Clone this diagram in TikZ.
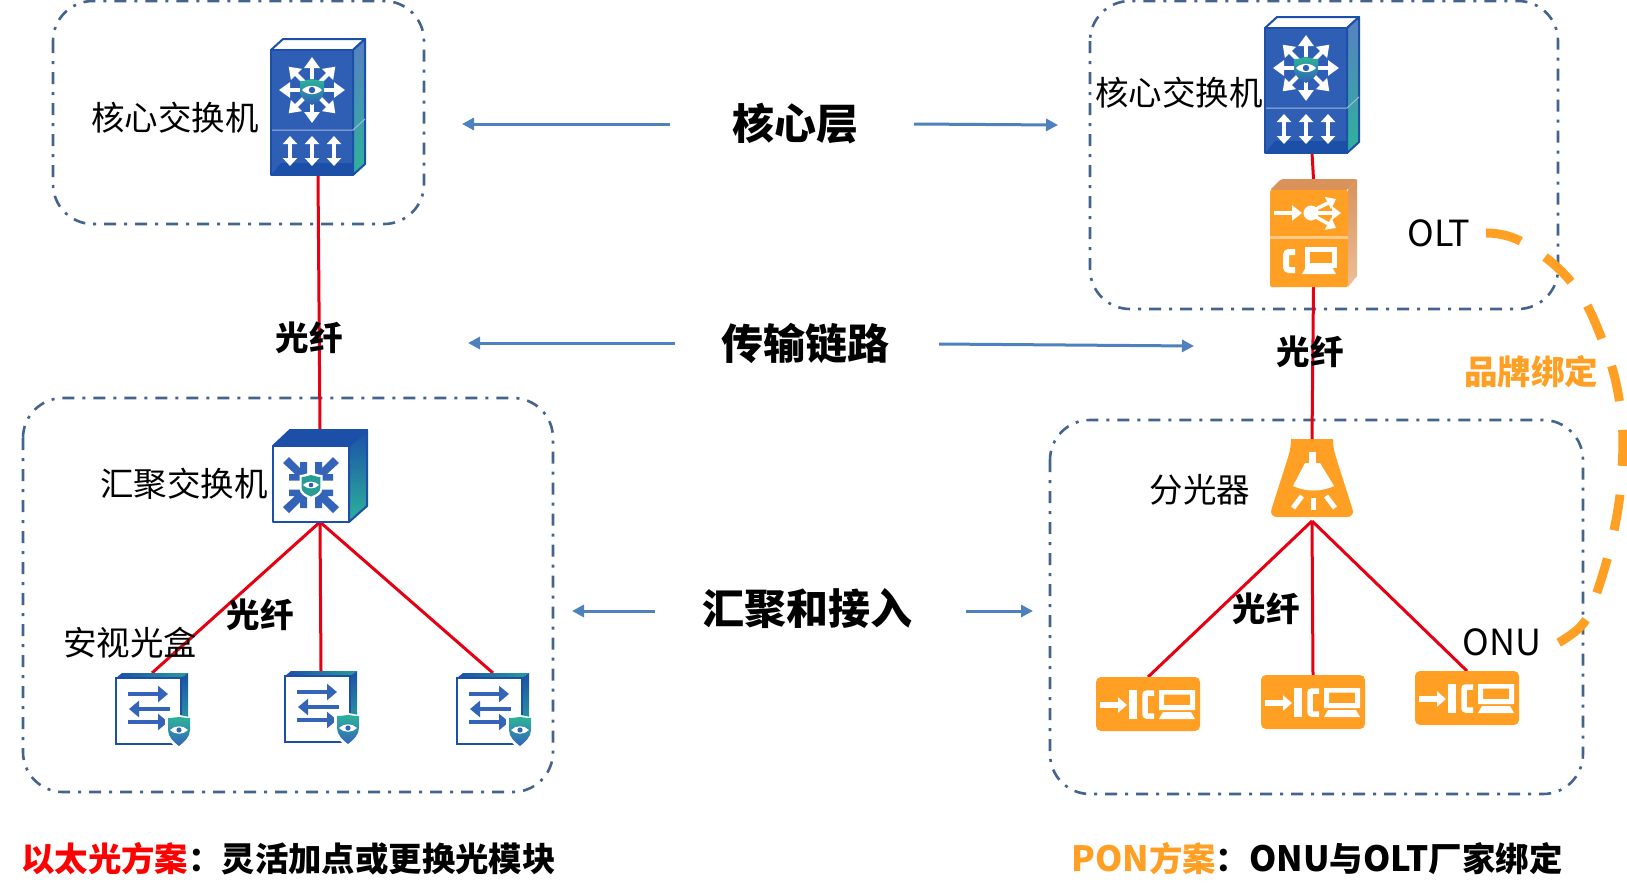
\documentclass[tikz,border=0pt]{standalone}
\usepackage{fontspec}
\usetikzlibrary{arrows.meta,calc,shadings}
\newfontfamily\cjk{Noto Sans CJK SC}
\newcommand{\latinpart}[1]{{\fontsize{36}{36}\selectfont #1}}
\newcommand{\footlatin}[1]{{\fontsize{34.8}{36}\selectfont #1}}
\definecolor{dashblue}{HTML}{44648E}
\definecolor{arrowblue}{HTML}{4F81BD}
\definecolor{devblue}{HTML}{2F5FB5}
\definecolor{edgeblue}{HTML}{1B4FA8}
\definecolor{midblue}{HTML}{3464B8}
\definecolor{teal1}{HTML}{2DB39A}
\definecolor{teal2}{HTML}{2A9C96}
\definecolor{orange1}{HTML}{FF9F24}
\definecolor{tanorange}{HTML}{D9925A}
\definecolor{tanlight}{HTML}{EBC09A}
\definecolor{fiberred}{HTML}{E60012}
\tikzset{
  x=1pt,y=-1pt,
  groupbox/.style={draw=dashblue,line width=2.6pt,rounded corners=40pt,dash pattern=on 12pt off 8pt on 3pt off 8pt},
  fiber/.style={draw=fiberred,line width=3pt},
  blueflow/.style={draw=arrowblue,line width=3pt,-{Triangle[length=12pt,width=12pt]}},
  brandcurve/.style={draw=orange1,line width=9pt,dash pattern=on 36pt off 29pt},
  anchorbox/.style={inner sep=0pt,outer sep=0pt,anchor=north west},
  plainlabel/.style={font=\cjk\fontsize{33.5}{36}\selectfont,text=black,inner sep=0pt},
  fiberlabel/.style={font=\cjk\bfseries\fontsize{33.5}{36}\selectfont,text=black,inner sep=0pt},
  layerlabel/.style={font=\cjk\bfseries\fontsize{42}{44}\selectfont,text=black,inner sep=0pt},
  footer/.style={font=\cjk\bfseries\fontsize{33.4}{36}\selectfont,inner sep=0pt,anchor=west},
  warrow/.style={draw=white,line width=4pt,-{Triangle[length=11pt,width=15pt]}},
  wdouble/.style={draw=white,line width=4pt,{Triangle[length=8pt,width=14pt]}-{Triangle[length=8pt,width=14pt]}},
  barrow/.style={draw=midblue,line width=4.5pt,-{Triangle[length=10pt,width=16pt]}},
  % ---- core switch
  coreswitch/.pic={
    \fill[white,draw=edgeblue,line width=2pt,line join=round] (0,11)--(12,0)--(94,0)--(82,11)--cycle;
    \path[top color=devblue!80!white,bottom color=teal1,draw=edgeblue,line width=2pt,line join=round] (82,11)--(94,0)--(94,125)--(82,136)--cycle;
    \fill[devblue,draw=edgeblue,line width=2pt,line join=round] (0,11)--(82,11)--(82,136)--(0,136)--cycle;
    \fill[edgeblue] (10,124)--(82,124)--(82,135)--(1,135)--cycle;
    \draw[devblue!45!white,line width=1pt] (1,91)--(82,91)--(94,80);
    \foreach \a in {0,45,...,315}{\draw[warrow] ($(41,51)+(\a:11)$)--($(41,51)+(\a:33)$);}
    \begin{scope}[shift={(41,51)}]
      \path[top color=teal1,bottom color=devblue] (-12,-9) .. controls (-4,-9) and (-4,-11) .. (0,-11) .. controls (4,-11) and (4,-9) .. (12,-9) -- (12,2) .. controls (12,8) and (5,12) .. (0,15) .. controls (-5,12) and (-12,8) .. (-12,2) -- cycle;
      \fill[white] (-10,0) .. controls (-5,-5.5) and (5,-5.5) .. (10,0) .. controls (5,5.5) and (-5,5.5) .. (-10,0) -- cycle;
      \fill[devblue] (0,0) circle[radius=3.2];
    \end{scope}
    \draw[wdouble] (19,97)--(19,127);
    \draw[wdouble] (41,97)--(41,127);
    \draw[wdouble] (63,97)--(63,127);
  },
  % ---- OLT
  oltbox/.pic={
    \fill[tanorange,rounded corners=2pt] (0,11)--(11,0)--(87,0)--(78,11)--cycle;
    \path[top color=tanorange,bottom color=tanlight] (78,11)--(87,0)--(87,97)--(78,108)--cycle;
    \fill[orange1,rounded corners=2pt] (0,11)--(78,11)--(78,108)--(0,108)--cycle;
    \draw[orange1!55!white,line width=3pt] (0,58)--(78,58);
    \draw[draw=white,line width=4pt,-{Triangle[length=10pt,width=15pt]}] (4,34)--(32,34);
    \fill[white] (41,34) circle[radius=7.5];
    \draw[draw=white,line width=3.5pt,-{Triangle[length=9pt,width=13pt]}] (44,31)--(66,20);
    \draw[draw=white,line width=3.5pt,-{Triangle[length=9pt,width=13pt]}] (44,34)--(71,34);
    \draw[draw=white,line width=3.5pt,-{Triangle[length=9pt,width=13pt]}] (44,37)--(66,49);
    \draw[white,line width=6pt,rounded corners=3pt] (25,73)--(16,73)--(16,91)--(25,91);
    \draw[white,line width=5pt,fill=orange1] (37.5,70.5) rectangle (64,86);
    \fill[white] (36,88)--(62,88)--(66,95)--(32,95)--cycle;
  },
  % ---- aggregation switch
  aggswitch/.pic={
    \fill[edgeblue,draw=edgeblue,line width=2pt,line join=round] (0,16)--(17,0)--(94,0)--(76,16)--cycle;
    \path[top color=edgeblue,bottom color=teal1,draw=edgeblue,line width=2pt,line join=round] (76,16)--(94,0)--(94,76)--(76,92)--cycle;
    \fill[white,draw=edgeblue,line width=2pt,line join=round] (0,16) rectangle (76,92);
    \foreach \sx/\sy in {1/1,-1/1,1/-1,-1/-1}{
      \fill[midblue,shift={(38,55)},xscale=\sx,yscale=\sy] (-4,-4.5)--(-22,-4.5)--(-22,-11)--(-16,-11)--(-28,-22)--(-22,-28)--(-11,-17)--(-11,-23)--(-4,-23)--cycle;
    }
    \begin{scope}[shift={(38,55)}]
      \fill[white] (-11.5,-10) .. controls (-6,-10) and (-3,-12.5) .. (0,-12.5) .. controls (3,-12.5) and (6,-10) .. (11.5,-10) -- (11.5,3) .. controls (11.5,9) and (6,12) .. (0,14) .. controls (-6,12) and (-11.5,9) .. (-11.5,3) -- cycle;
      \fill[teal2] (-9.3,-8) .. controls (-4,-8) and (-3,-10) .. (0,-10) .. controls (3,-10) and (4,-8) .. (9.3,-8) -- (9.3,3) .. controls (9.3,7) and (5,9.5) .. (0,11.5) .. controls (-5,9.5) and (-9.3,7) .. (-9.3,3) -- cycle;
      \fill[white] (-8,0) .. controls (-4,-4.5) and (4,-4.5) .. (8,0) .. controls (4,4.5) and (-4,4.5) .. (-8,0) -- cycle;
      \fill[devblue] (0,0) circle[radius=2.3];
    \end{scope}
  },
  % ---- access box
  accessbox/.pic={
    \path[left color=edgeblue,right color=teal2] (0,5)--(6,0)--(72,0)--(65,5)--cycle;
    \path[top color=edgeblue,bottom color=teal1] (65,5)--(72,0)--(72,62)--(65,66)--cycle;
    \fill[white,draw=edgeblue,line width=1.6pt] (0,5) rectangle (65,71);
    \draw[barrow] (12,21)--(52,21);
    \draw[barrow] (54,36)--(13,36);
    \draw[barrow] (12,49)--(52,49);
    \begin{scope}[shift={(63,48)}]
      \fill[white] (-14,-4) .. controls (-6,-4) and (-3,-6) .. (0,-6) .. controls (3,-6) and (6,-4) .. (14,-4) -- (14,10) .. controls (14,18) and (6,24) .. (0,28) .. controls (-6,24) and (-14,18) .. (-14,10) -- cycle;
      \path[top color=teal1,bottom color=midblue] (-11,-3) .. controls (-5,-3) and (-3,-4) .. (0,-4) .. controls (3,-4) and (5,-3) .. (11,-3) -- (11,9) .. controls (11,16) and (5,21) .. (0,25) .. controls (-5,21) and (-11,16) .. (-11,9) -- cycle;
      \fill[white] (-9,9) .. controls (-4,4) and (4,4) .. (9,9) .. controls (4,14) and (-4,14) .. (-9,9) -- cycle;
      \fill[midblue] (0,9) circle[radius=2.6];
    \end{scope}
  },
  % ---- splitter
  splitter/.pic={
    \fill[orange1,rounded corners=8pt] (22,4)--(22,0)--(64,0)--(64,9)--(86,78)--(0,78)--(22,9)--cycle;
    \fill[orange1] (22,0) rectangle (64,12);
    \fill[white] (40,13) rectangle (47,24);
    \fill[white] (36,24)--(51,24)--(65,47) .. controls (52,53) and (37,53) .. (24,47)--cycle;
    \draw[white,line width=5pt] (24,69)--(33,57);
    \draw[white,line width=5pt] (44,59)--(44,71);
    \draw[white,line width=5pt] (66,69)--(57,57);
  },
  % ---- ONU
  onubox/.pic={
    \fill[orange1,rounded corners=5pt] (0,0) rectangle (104,54);
    \draw[draw=white,line width=6pt,-{Triangle[length=9pt,width=15pt]}] (4,28)--(31,28);
    \fill[white] (33,13) rectangle (41,42);
    \draw[white,line width=5.5pt,rounded corners=2pt] (58,16)--(49,16)--(49,39)--(58,39);
    \fill[white,even odd rule] (63,13) rectangle (99,33) (68,17.5) rectangle (94,28);
    \fill[white] (67,35)--(95,35)--(99,42)--(63,42)--cycle;
  }
}
\begin{document}
\begin{tikzpicture}
\useasboundingbox[fill=white] (0,0) rectangle (1627,887);
% groups
\draw[groupbox] (53,1) rectangle (424,224);
\draw[groupbox] (1090,1) rectangle (1558,309);
\draw[groupbox] (23,398) rectangle (553,792);
\draw[groupbox] (1050,420) rectangle (1583,794);
% device anchors
\node[anchorbox,minimum width=94pt,minimum height=136pt] (coreA) at (271,39) {};
\node[anchorbox,minimum width=94pt,minimum height=136pt] (coreB) at (1265,17) {};
\node[anchorbox,minimum width=87pt,minimum height=108pt] (olt) at (1270,179) {};
\node[anchorbox,minimum width=94pt,minimum height=92pt] (agg) at (273,430) {};
\node[anchorbox,minimum width=72pt,minimum height=71pt] (boxA) at (116,673) {};
\node[anchorbox,minimum width=72pt,minimum height=71pt] (boxB) at (285,671) {};
\node[anchorbox,minimum width=72pt,minimum height=71pt] (boxC) at (457,673) {};
\node[anchorbox,minimum width=86pt,minimum height=82pt] (split) at (1269,439) {};
\node[anchorbox,minimum width=104pt,minimum height=54pt] (onuA) at (1096,677) {};
\node[anchorbox,minimum width=104pt,minimum height=54pt] (onuB) at (1261,675) {};
\node[anchorbox,minimum width=104pt,minimum height=54pt] (onuC) at (1415,671) {};
% fibers
\draw[fiber] (coreA.south)--(agg.north);
\draw[fiber] (agg.south)--(boxA.north);
\draw[fiber] (agg.south)--(boxB.north);
\draw[fiber] (agg.south)--(boxC.north);
\draw[fiber] (coreB.south)--(olt.north);
\draw[fiber] (olt.south)--(split.north);
\draw[fiber] (split.south)--(onuA.north);
\draw[fiber] (split.south)--(onuB.north);
\draw[fiber] (split.south)--(onuC.north);
% devices
\pic at (coreA.north west) {coreswitch};
\pic at (coreB.north west) {coreswitch};
\pic at (olt.north west) {oltbox};
\pic at (agg.north west) {aggswitch};
\pic at (boxA.north west) {accessbox};
\pic at (boxB.north west) {accessbox};
\pic at (boxC.north west) {accessbox};
\pic at (split.north west) {splitter};
\pic at (onuA.north west) {onubox};
\pic at (onuB.north west) {onubox};
\pic at (onuC.north west) {onubox};
% center labels
\node[layerlabel] (lc) at (795,124) {核心层};
\node[layerlabel] (lt) at (805,343) {传输链路};
\node[layerlabel] (la) at (807,609) {汇聚和接入};
\coordinate (lcLe) at (462,124); \coordinate (lcL) at (670,124);
\coordinate (lcR) at (914,124); \coordinate (lcRe) at (1058,125);
\coordinate (ltL) at (675,343); \coordinate (ltLe) at (468,343);
\coordinate (ltR) at (939,344); \coordinate (ltRe) at (1194,346);
\coordinate (laL) at (655,611); \coordinate (laLe) at (572,611);
\coordinate (laR) at (966,611); \coordinate (laRe) at (1033,611);
\draw[blueflow] (lcL)--(lcLe);
\draw[blueflow] (lcR)--(lcRe);
\draw[blueflow] (ltL)--(ltLe);
\draw[blueflow] (ltR)--(ltRe);
\draw[blueflow] (laL)--(laLe);
\draw[blueflow] (laR)--(laRe);
% labels
\node[plainlabel] (t1) at (175,118) {核心交换机};
\node[plainlabel] (t2) at (1179,93) {核心交换机};
\node[plainlabel] (t3) at (184,484) {汇聚交换机};
\node[plainlabel] (t4) at (130,643) {安视光盒};
\node[plainlabel] (t5) at (1200,490) {分光器};
\node[plainlabel] (t6) at (1439,233) {\latinpart{OLT}};
\node[plainlabel] (t7) at (1502,642) {\latinpart{ONU}};
\node[fiberlabel] (f1) at (309,338) {光纤};
\node[fiberlabel] (f2) at (1310,352) {光纤};
\node[fiberlabel] (f3) at (260,615) {光纤};
\node[fiberlabel] (f4) at (1266,609) {光纤};
% brand curve
\draw[brandcurve] plot[smooth,tension=0.7] coordinates {(1486,233) (1522,242) (1572,283) (1603,342) (1620,405) (1622,470) (1613,535) (1595,598) (1582,625) (1558,643)};
\node[fiberlabel,text=orange1] (brand) at (1531,372) {品牌绑定};
% footers
\node[footer] (fl) at (21,859) {\textcolor{red}{以太光方案}：灵活加点或更换光模块};
\node[footer] (fr) at (1071,859) {\textcolor{orange1}{\footlatin{PON}方案}：\footlatin{ONU}与\footlatin{OLT}厂家绑定};
\end{tikzpicture}
\end{document}
